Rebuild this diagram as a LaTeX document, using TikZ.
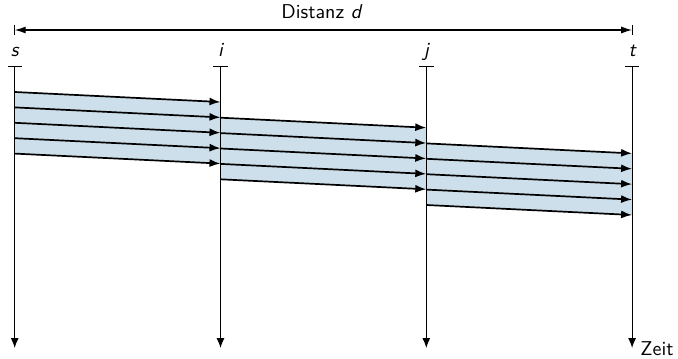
\documentclass[tikz,border=0pt]{standalone}
\usetikzlibrary{arrows.meta}
\definecolor{bandblue}{RGB}{205,223,234}
\begin{document}
\begin{tikzpicture}[x=0.5pt,y=-0.5pt,
  band/.style={fill=bandblue, draw=none},
  flow/.style={line width=0.85pt, -{Latex[length=5.5pt,width=4pt]}},
  timeline/.style={line width=0.55pt, -{Latex[length=5pt,width=4pt]}},
  tbar/.style={line width=0.55pt},
  lbl/.style={font=\sffamily\itshape, anchor=base, inner sep=0pt},
  txt/.style={font=\sffamily, inner sep=0pt},
]
\useasboundingbox (0,0) rectangle (678,358);

% bands and flow coordinates
\foreach \k/\xa/\xb in {0/14.7/220.5, 1/220.5/426.3, 2/426.3/632.1} {
  \pgfmathsetmacro\ya{92+25.7*\k}
  \fill[band] (\xa,\ya) -- (\xb,\ya+10) -- (\xb,\ya+71.6) -- (\xa,\ya+61.6) -- cycle;
  \foreach \m in {0,...,4} {
    \coordinate (a\k\m) at (\xa,\ya+15.4*\m);
    \coordinate (b\k\m) at (\xb,\ya+10+15.4*\m);
  }
}

% time lines
\foreach \n/\x in {s/14.7, i/220.5, j/426.3, t/632.1} {
  \coordinate (\n top) at (\x,66.7);
  \coordinate (\n bot) at (\x,348);
  \coordinate (\n tl) at (\x-7.2,66.7);
  \coordinate (\n tr) at (\x+7.2,66.7);
  \node[lbl] (\n lab) at (\x,57) {\n};
  \draw[timeline] (\n top) -- (\n bot);
  \draw[tbar] (\n tl) -- (\n tr);
}

% flows
\foreach \k in {0,1,2} {
  \foreach \m in {0,...,4} {
    \draw[flow] (a\k\m) -- (b\k\m);
  }
}

% distance
\coordinate (dl) at (14.7,30);
\coordinate (dr) at (632.1,30);
\coordinate (dlu) at (14.7,25);
\coordinate (dld) at (14.7,35);
\coordinate (dru) at (632.1,25);
\coordinate (drd) at (632.1,35);
\draw[line width=0.55pt, {Latex[length=5.5pt,width=3.5pt]}-{Latex[length=5.5pt,width=3.5pt]}] (dl) -- (dr);
\draw[tbar] (dlu) -- (dld);
\draw[tbar] (dru) -- (drd);
\node[txt, anchor=base] (dist) at (322,19) {Distanz \textit{d}};

\node[txt, anchor=base west] (zeit) at (640,355) {Zeit};
\end{tikzpicture}
\end{document}
